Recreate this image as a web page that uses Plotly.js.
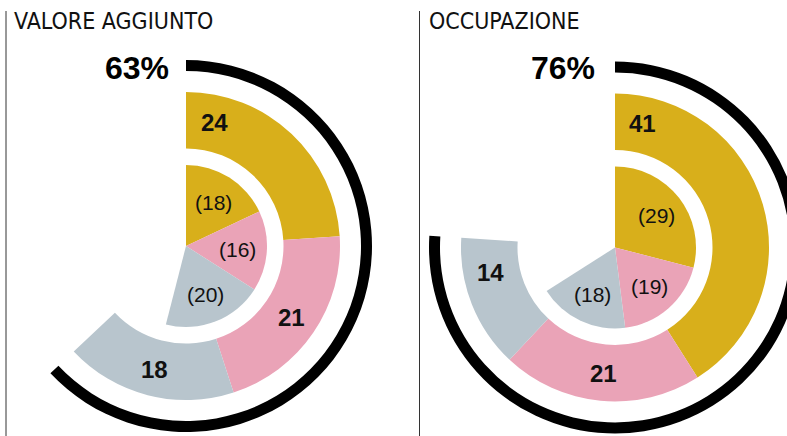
<!DOCTYPE html>
<html>
<head>
<meta charset="utf-8">
<script src="https://cdn.plot.ly/plotly-3.0.1.min.js"></script>
<style>
html,body{margin:0;padding:0;overflow:hidden;background:#fff;}
#chart{width:840px;height:436px;}
</style>
</head>
<body>
<div id="chart"></div>
<script>
// ---- data ----
const panelTitles = ["VALORE AGGIUNTO", "OCCUPAZIONE"];
const categories = ["A", "B", "C"];
const outerValuesVA = [24, 21, 18];
const innerValuesVA = [18, 16, 20];
const outerValuesOcc = [41, 21, 14];
const innerValuesOcc = [29, 19, 18];
const totalVA = 63;
const totalOcc = 76;

// ---- style ----
const W = 840, H = 436;
const colors = ["#d8af1b", "#eaa3b7", "#b8c5cd"];
const clear = "rgba(0,0,0,0)";
const numFont = "Liberation Sans, Arial, sans-serif";
const titleFont = "Liberation Sans Narrow, DejaVu Sans Condensed, sans-serif";
const geom = {rOut: 154, rHole: 97.5, rPie: 81, rArc: 186, arcW: 11, rOutLabel: 127, rInLabel: 52};
// where inside each slice (0 = start, 1 = end) the label sits
const labelFracVA = [0.15, 0.5, 0.5];
const labelFracOcc = [0.085, 0.5, 0.7];

function dom(cx, cy, r) {
  return {x: [(cx - r) / W, (cx + r) / W], y: [(H - cy - r) / H, (H - cy + r) / H]};
}

function sliceLabels(cx, cy, vals, fracs, r, fmt, font) {
  let start = 0;
  return vals.map((v, i) => {
    const ang = (start + v * fracs[i]) / 100 * 2 * Math.PI;
    start += v;
    const x = cx + r * Math.sin(ang), y = cy - r * Math.cos(ang);
    return {text: fmt(v), xref: "paper", yref: "paper", x: x / W, y: 1 - y / H,
      xanchor: "center", yanchor: "middle", showarrow: false, font: font};
  });
}

function panel(cx, cy, outer, inner, total) {
  const g = geom;
  const common = {type: "pie", sort: false, direction: "clockwise", rotation: 0,
    hoverinfo: "none", showlegend: false, textinfo: "none"};
  const oVals = outer.concat([100 - outer.reduce((a, b) => a + b, 0)]);
  const iVals = inner.concat([100 - inner.reduce((a, b) => a + b, 0)]);
  return [
    Object.assign({}, common, {
      values: [total, 100 - total], domain: dom(cx, cy, g.rArc), hole: (g.rArc - g.arcW) / g.rArc,
      marker: {colors: ["#000", clear], line: {width: 0}}
    }),
    Object.assign({}, common, {
      values: oVals, domain: dom(cx, cy, g.rOut), hole: g.rHole / g.rOut,
      marker: {colors: colors.concat([clear]), line: {width: 0}}
    }),
    Object.assign({}, common, {
      values: iVals, domain: dom(cx, cy, g.rPie),
      marker: {colors: colors.concat([clear]), line: {width: 0}}
    })
  ];
}

const cxL = 186, cyL = 246, cxR = 615, cyR = 247.5;
const data = [].concat(
  panel(cxL, cyL, outerValuesVA, innerValuesVA, totalVA),
  panel(cxR, cyR, outerValuesOcc, innerValuesOcc, totalOcc)
);

const outerFont = {family: numFont, size: 24, color: "#111", weight: "bold"};
const innerFont = {family: numFont, size: 21, color: "#111"};
const mid = [0.5, 0.5, 0.5];

const annotations = [
  {text: panelTitles[0], xref: "paper", yref: "paper", x: 12 / W, y: 1 - 6 / H, xanchor: "left", yanchor: "top", showarrow: false,
    font: {family: titleFont, size: 23, color: "#111"}},
  {text: panelTitles[1], xref: "paper", yref: "paper", x: 427 / W, y: 1 - 6 / H, xanchor: "left", yanchor: "top", showarrow: false,
    font: {family: titleFont, size: 23, color: "#111"}},
  {text: totalVA + "%", xref: "paper", yref: "paper", x: 171 / W, y: 1 - 68 / H, xanchor: "right", yanchor: "middle", showarrow: false,
    font: {family: numFont, size: 32, color: "#000", weight: "bold"}},
  {text: totalOcc + "%", xref: "paper", yref: "paper", x: 597 / W, y: 1 - 68 / H, xanchor: "right", yanchor: "middle", showarrow: false,
    font: {family: numFont, size: 32, color: "#000", weight: "bold"}}
].concat(
  sliceLabels(cxL, cyL, outerValuesVA, labelFracVA, geom.rOutLabel, v => String(v), outerFont),
  sliceLabels(cxL, cyL, innerValuesVA, mid, geom.rInLabel, v => "(" + v + ")", innerFont),
  sliceLabels(cxR, cyR, outerValuesOcc, labelFracOcc, geom.rOutLabel, v => String(v), outerFont),
  sliceLabels(cxR, cyR, innerValuesOcc, mid, geom.rInLabel, v => "(" + v + ")", innerFont)
);

const layout = {
  width: W, height: H,
  margin: {l: 0, r: 0, t: 0, b: 0},
  paper_bgcolor: "#fff",
  shapes: [
    {type: "line", xref: "paper", yref: "paper", x0: 6 / W, x1: 6 / W, y0: 0, y1: (H - 11) / H, line: {color: "#333", width: 1}},
    {type: "line", xref: "paper", yref: "paper", x0: 419.5 / W, x1: 419.5 / W, y0: 0, y1: (H - 11) / H, line: {color: "#333", width: 1}}
  ],
  annotations: annotations
};

Plotly.newPlot("chart", data, layout, {displayModeBar: false, staticPlot: true});
</script>
</body>
</html>
